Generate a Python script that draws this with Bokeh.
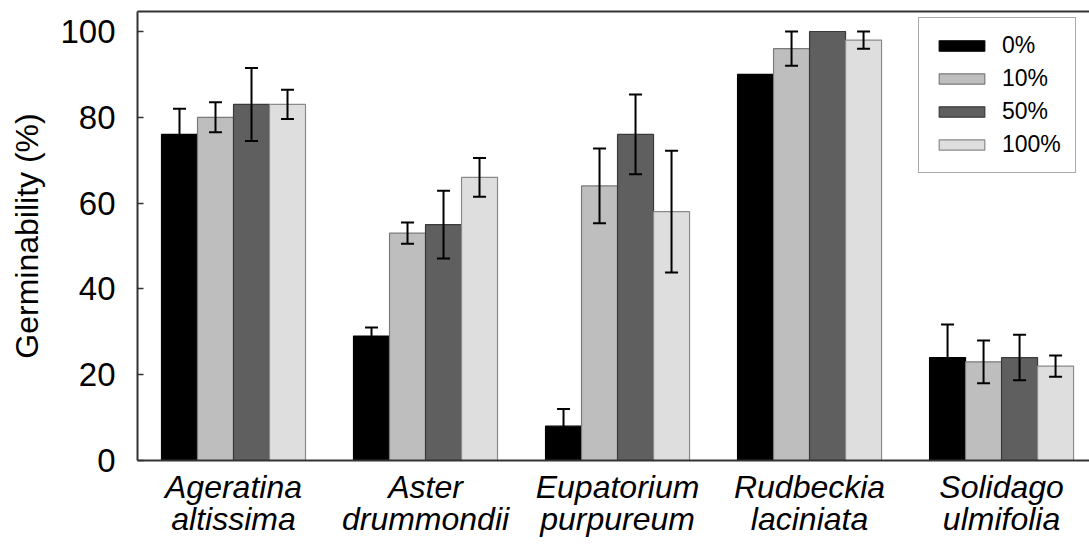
from bokeh.plotting import figure
from bokeh.models import (ColumnDataSource, Whisker, TeeHead, Range1d, FixedTicker,
                          LinearAxis, Legend, LegendItem)
from bokeh.embed import file_html
from bokeh.resources import INLINE

species = ["Ageratina altissima", "Aster drummondii", "Eupatorium purpureum",
           "Rudbeckia laciniata", "Solidago ulmifolia"]
treatments = ["0%", "10%", "50%", "100%"]
v0 = [76, 29, 8, 90, 24]
v10 = [80, 53, 64, 96, 23]
v50 = [83, 55, 76, 100, 24]
v100 = [83, 66, 58, 98, 22]
e0 = [6, 2, 4, 0, 7.7]
e10 = [3.5, 2.5, 8.7, 4, 5]
e50 = [8.5, 7.9, 9.3, 0, 5.3]
e100 = [3.4, 4.5, 14.2, 2, 2.5]
y_ticks = [0, 20, 40, 60, 80, 100]

values = [v0, v10, v50, v100]
errors = [e0, e10, e50, e100]
fills = ["#000000", "#bebebe", "#5f5f5f", "#dedede"]
lines = ["#000000", "#7a7a7a", "#3a3a3a", "#8a8a8a"]

FONT = "Liberation Sans"
bw = 0.1875

p = figure(width=1089, height=544, output_backend="svg", toolbar_location=None,
           x_range=Range1d(-0.5, 4.458), y_range=Range1d(0, 104.66),
           min_border_left=137, min_border_right=0, min_border_top=11,
           min_border_bottom=84)
p.xgrid.visible = False
p.ygrid.visible = False
p.outline_line_color = None
p.background_fill_color = "white"
p.border_fill_color = "white"

items = []
for k, (vals, errs) in enumerate(zip(values, errors)):
    xs = [i + (k - 1.5) * bw for i in range(len(species))]
    src = ColumnDataSource(dict(x=xs, top=vals))
    r = p.vbar(x="x", top="top", width=bw, bottom=0, source=src,
               fill_color=fills[k], line_color=lines[k], line_width=1.2)
    items.append(LegendItem(label=treatments[k], renderers=[r]))
    wx = [x for x, e in zip(xs, errs) if e > 0]
    wv = [v for v, e in zip(vals, errs) if e > 0]
    we = [e for e in errs if e > 0]
    wsrc = ColumnDataSource(dict(base=wx, upper=[v + e for v, e in zip(wv, we)],
                                 lower=[v - e for v, e in zip(wv, we)]))
    w = Whisker(base="base", upper="upper", lower="lower", source=wsrc,
                dimension="height", line_color="black", line_width=2, level="overlay",
                upper_head=TeeHead(size=13, line_color="black", line_width=2),
                lower_head=TeeHead(size=13, line_color="black", line_width=2))
    p.add_layout(w)

# x axis
xa = p.xaxis[0]
xa.ticker = FixedTicker(ticks=list(range(len(species))))
xa.major_label_overrides = {i: s.replace(" ", "\n") for i, s in enumerate(species)}
xa.major_tick_line_color = None
xa.minor_tick_line_color = None
xa.axis_line_width = 2
xa.axis_line_color = "#333333"
xa.major_label_text_font = FONT
xa.major_label_text_font_style = "italic"
xa.major_label_text_font_size = "32px"
xa.major_label_text_color = "black"
xa.major_label_text_line_height = 0.9
xa.major_label_standoff = 2

# y axis
ya = p.yaxis[0]
ya.ticker = FixedTicker(ticks=y_ticks)
ya.major_tick_in = 6
ya.major_tick_out = 0
ya.minor_tick_line_color = None
ya.axis_line_width = 2
ya.axis_line_color = "#333333"
ya.major_tick_line_color = "#333333"
ya.major_tick_line_width = 1.5
ya.major_label_text_font = FONT
ya.major_label_text_font_size = "33px"
ya.major_label_text_color = "black"
ya.major_label_standoff = 22
ya.axis_label = "Germinability (%)"
ya.axis_label_text_font = FONT
ya.axis_label_text_font_style = "normal"
ya.axis_label_text_font_size = "32px"
ya.axis_label_text_color = "black"
ya.axis_label_standoff = 12

# top border line
top = LinearAxis(ticker=FixedTicker(ticks=[]), major_tick_line_color=None,
                 minor_tick_line_color=None, axis_line_width=2,
                 axis_line_color="#333333", major_label_standoff=0)
p.add_layout(top, "above")

legend = Legend(items=items, location=(781, 287), border_line_color="#555555",
                border_line_width=1, background_fill_color="white", background_fill_alpha=1,
                glyph_width=57, glyph_height=13, label_height=25, spacing=6,
                padding=14, label_standoff=12, label_text_font=FONT,
                label_text_font_size="23px", label_text_color="black", margin=0)
p.add_layout(legend, "center")

open("out.html", "w").write(file_html(p, INLINE))
